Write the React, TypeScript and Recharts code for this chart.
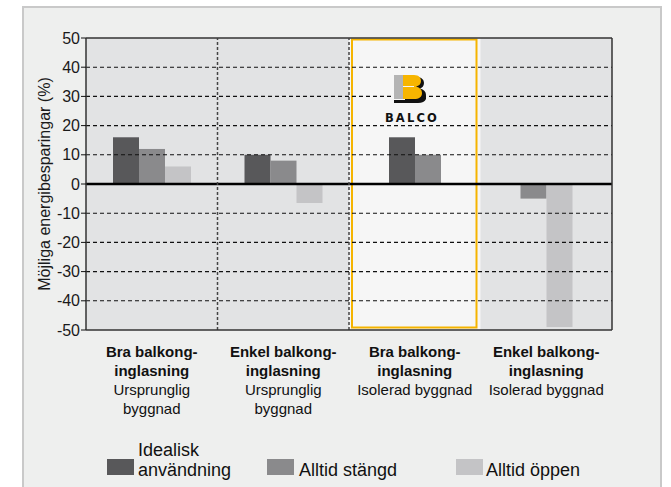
import React from 'react'
import { BarChart, Bar, XAxis, YAxis, CartesianGrid, ReferenceLine, ReferenceArea } from 'recharts'

const categories = [
  'Bra balkong-inglasning, Ursprunglig byggnad',
  'Enkel balkong-inglasning, Ursprunglig byggnad',
  'Bra balkong-inglasning, Isolerad byggnad',
  'Enkel balkong-inglasning, Isolerad byggnad',
]
const glazingLines = [
  ['Bra balkong-', 'inglasning'],
  ['Enkel balkong-', 'inglasning'],
  ['Bra balkong-', 'inglasning'],
  ['Enkel balkong-', 'inglasning'],
]
const buildingLines = [['Ursprunglig', 'byggnad'], ['Ursprunglig', 'byggnad'], ['Isolerad byggnad'], ['Isolerad byggnad']]

const idealisk = [16, 10, 16, null]
const alltidStangd = [12, 8, 10, -5]
const alltidOppen = [6, -6.5, null, -49]

const seriesNames = ['Idealisk användning', 'Alltid stängd', 'Alltid öppen']
const seriesKeys = ['idealisk', 'stangd', 'oppen']
const seriesColors = ['#58585a', '#8a8a8c', '#c4c4c6']

const yTicks = [50, 40, 30, 20, 10, 0, -10, -20, -30, -40, -50]
const gridValues = [40, 30, 20, 10, -10, -20, -30, -40]
const yTitle = 'Möjliga energibesparingar (%)'
const highlighted = categories[2]

const data = categories.map((c, i) => ({
  name: c,
  idealisk: idealisk[i],
  stangd: alltidStangd[i],
  oppen: alltidOppen[i],
}))

const FONT = '"Liberation Sans", Arial, Helvetica, sans-serif'
const W = 671
const H = 487
const MARGIN = { top: 38, right: 0, bottom: 0, left: 0 }

// bars are centred on the bars that actually exist in each group
function makeShape(seriesIdx: number) {
  return (props: any) => {
    const { x, y, width, height, fill, payload } = props
    if (x == null || width == null) return null
    const present = seriesKeys.filter((k) => payload && payload[k] != null)
    const idx = present.indexOf(seriesKeys[seriesIdx])
    if (idx < 0) return null
    const groupCenter = x - seriesIdx * width + (seriesKeys.length * width) / 2
    const nx = groupCenter - (present.length * width) / 2 + idx * width
    const top = Math.min(y, y + height)
    return <rect x={nx} y={top} width={width} height={Math.abs(height)} fill={fill} />
  }
}

// highlighted column: light fill over the whole band, orange frame set slightly inside
function renderHighlight(props: any) {
  const { x, y, width, height } = props
  if (x == null) return <g />
  return (
    <g>
      <rect x={x} y={y} width={width} height={height} fill="#f6f6f6" />
      <rect
        x={x + 3}
        y={y + 1.5}
        width={width - 7}
        height={height - 4}
        fill="none"
        stroke="#f5b400"
        strokeWidth={2}
      />
    </g>
  )
}

function XTick(props: any) {
  const { x, y, payload } = props
  const i = categories.indexOf(payload.value)
  if (i < 0) return null
  const lines = [
    ...glazingLines[i].map((t) => ({ t, bold: true })),
    ...buildingLines[i].map((t) => ({ t, bold: false })),
  ]
  return (
    <g>
      {lines.map((l, k) => (
        <text
          key={k}
          x={x}
          y={y + 27 + k * 19}
          textAnchor="middle"
          fontFamily={FONT}
          fontSize={15}
          fontWeight={l.bold ? 700 : 400}
          fill="#111"
        >
          {l.t}
        </text>
      ))}
    </g>
  )
}

function Logo() {
  return (
    <svg width={70} height={56} style={{ position: 'absolute', left: 377, top: 72 }}>
      <g transform="translate(17,3)">
        <path d="M11,2 H22 C28,2 30,5 30,8 C30,11 28,13 26,13.5 C30,14.5 32,17 32,20 C32,24 29,26 24,26 H11 Z" fill="#111" />
        <path d="M0,25 H24 C28,25 31,23 32,21 L32,24 C31,26.5 28,28 24,28 H0 Z" fill="#111" />
        <rect x={0} y={0} width={9} height={24} fill="#b4b4b4" />
        <path d="M9,0 H20 C25,0 27,3 27,6 C27,9 25,11 22,11.5 C26,12.5 28,15 28,18 C28,22 25,24 20,24 H9 Z" fill="#f7b500" />
        <path d="M9,11.5 H20" stroke="#f6f6f6" strokeWidth={1} />
      </g>
      <text
        x={35}
        y={50}
        textAnchor="middle"
        fontFamily='"DejaVu Sans", sans-serif'
        fontSize={11.5}
        fontWeight={700}
        letterSpacing={2.2}
        fill="#111"
      >
        BALCO
      </text>
    </svg>
  )
}

const legendLayout = [
  { sq: 107, tx: 138 },
  { sq: 267, tx: 299 },
  { sq: 456, tx: 486 },
]

export default function App() {
  const tickStyle = { fontFamily: FONT, fontSize: 16, fill: '#1a1a1a' }
  return (
    <div style={{ position: 'fixed', left: 0, top: 0, width: W, height: H, overflow: 'hidden', background: '#fff', fontFamily: FONT }}>
      <div
        style={{
          position: 'absolute',
          left: 22,
          top: 6,
          width: 636,
          height: 500,
          background: '#eeefee',
          border: '2px solid #c9c9c9',
        }}
      />
      {/* back layer: plot background and the highlighted column */}
      <div style={{ position: 'absolute', left: 0, top: 0 }}>
        <BarChart width={W} height={H} data={data} margin={MARGIN} barGap={0} barSize={26}>
          <CartesianGrid horizontal={false} vertical={false} fill="#e2e3e4" yAxisId="left" />
          <XAxis dataKey="name" height={157} tick={false} tickLine={false} axisLine={false} />
          <YAxis yAxisId="left" width={86} domain={[-50, 50]} ticks={yTicks} tick={false} tickLine={false} axisLine={false} />
          <YAxis yAxisId="right" orientation="right" width={59} domain={[-50, 50]} ticks={yTicks} tick={false} tickLine={false} axisLine={false} />
          <ReferenceArea
            yAxisId="left"
            x1={highlighted}
            x2={highlighted}
            y1={50}
            y2={-50}
            fill="#f6f6f6"
            fillOpacity={1}
            shape={renderHighlight}
          />
          {seriesKeys.map((k) => (
            <Bar key={k} yAxisId="left" dataKey={k} fill="transparent" isAnimationActive={false} />
          ))}
        </BarChart>
      </div>
      {/* front layer: grid, bars, axes */}
      <div style={{ position: 'absolute', left: 0, top: 0 }}>
        <BarChart width={W} height={H} data={data} margin={MARGIN} barGap={0} barSize={26}>
          {gridValues.map((v) => (
            <ReferenceLine key={v} yAxisId="left" y={v} stroke="#111" strokeWidth={1.1} strokeDasharray="4 3" />
          ))}
          <XAxis
            dataKey="name"
            height={157}
            tickSize={0}
            tickMargin={0}
            tickLine={false}
            axisLine={{ stroke: '#333', strokeWidth: 1.5 }}
            tick={<XTick />}
            interval={0}
          />
          <YAxis
            yAxisId="left"
            orientation="left"
            width={86}
            domain={[-50, 50]}
            ticks={yTicks}
            interval={0}
            tickSize={5}
            tickMargin={1}
            tickLine={{ stroke: '#111' }}
            axisLine={{ stroke: '#333', strokeWidth: 1.5 }}
            tick={tickStyle}
            label={{
              value: yTitle,
              angle: -90,
              position: 'center',
              dx: 1,
              style: { fontFamily: FONT, fontSize: 16, fill: '#1a1a1a', textAnchor: 'middle' },
            }}
          />
          <YAxis
            yAxisId="right"
            orientation="right"
            width={59}
            domain={[-50, 50]}
            ticks={yTicks}
            interval={0}
            tickSize={5}
            tickMargin={-1}
            tickLine={{ stroke: '#111' }}
            axisLine={{ stroke: '#333', strokeWidth: 1.5 }}
            tick={tickStyle}
          />
          {seriesKeys.map((k, i) => (
            <Bar
              key={k}
              yAxisId="left"
              dataKey={k}
              name={seriesNames[i]}
              fill={seriesColors[i]}
              shape={makeShape(i)}
              isAnimationActive={false}
            />
          ))}
          <ReferenceLine yAxisId="left" y={50} stroke="#333" strokeWidth={1.5} />
          <ReferenceLine yAxisId="left" y={0} stroke="#000" strokeWidth={2.5} />
          {[categories[1], categories[2]].map((c) => (
            <ReferenceLine
              key={c}
              yAxisId="left"
              x={c}
              position="start"
              stroke="#444"
              strokeWidth={1.5}
              strokeDasharray="3 2"
            />
          ))}
        </BarChart>
      </div>
      <Logo />
      {seriesNames.map((n, i) => (
        <React.Fragment key={n}>
          <div
            style={{
              position: 'absolute',
              left: legendLayout[i].sq,
              top: 459,
              width: 27,
              height: 16,
              background: seriesColors[i],
            }}
          />
          <div
            style={{
              position: 'absolute',
              left: legendLayout[i].tx,
              top: i === 0 ? 440 : 460,
              width: i === 0 ? 100 : 160,
              fontSize: 18,
              lineHeight: '20px',
              color: '#111',
            }}
          >
            {n}
          </div>
        </React.Fragment>
      ))}
    </div>
  )
}
